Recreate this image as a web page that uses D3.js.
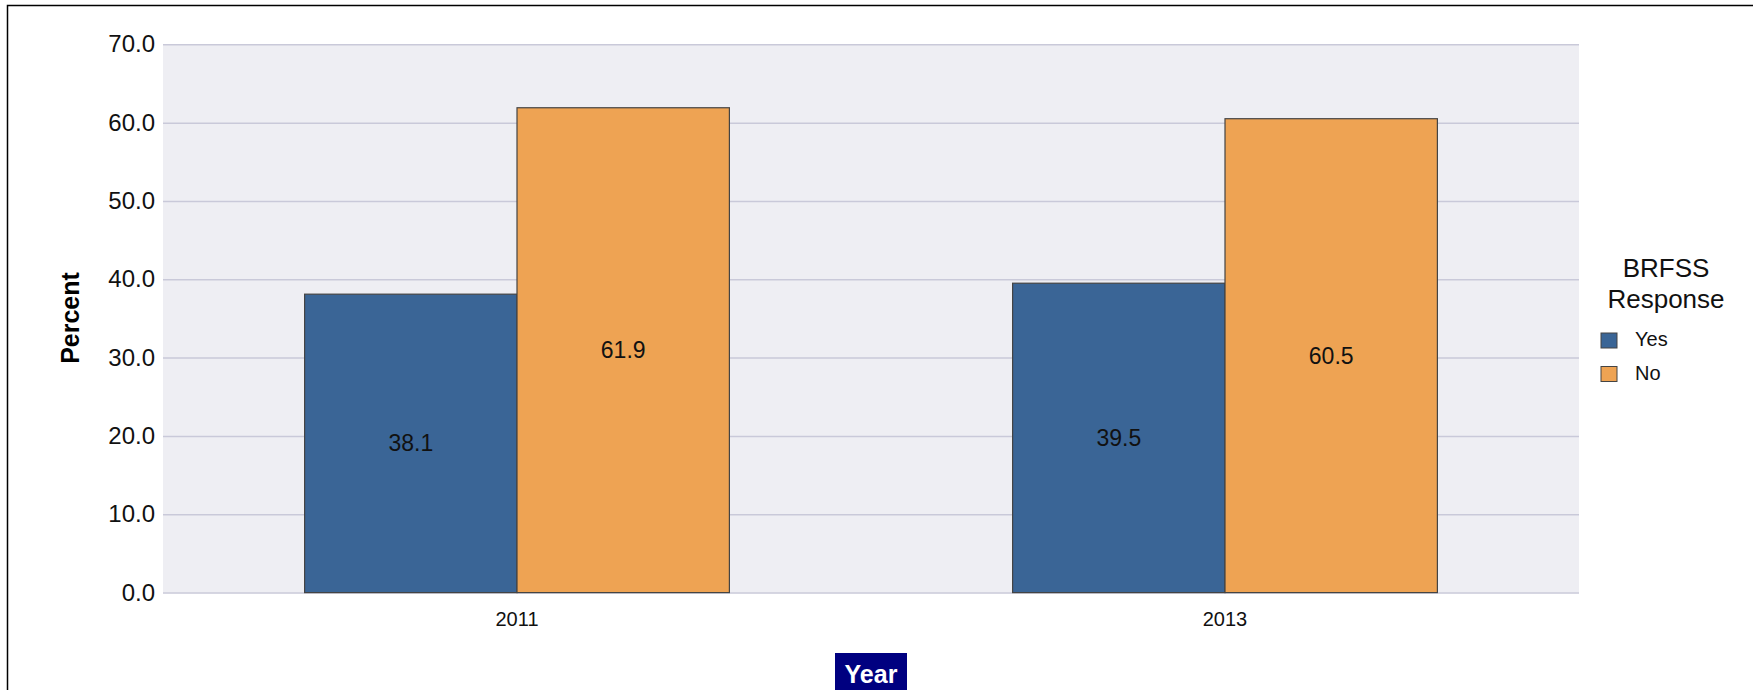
<!DOCTYPE html>
<html>
<head>
<meta charset="utf-8">
<script src="https://cdn.jsdelivr.net/npm/d3@7"></script>
<style>
  body { margin: 0; background: #fff; }
  svg text { font-family: "Liberation Sans", Arial, sans-serif; }
</style>
</head>
<body>
<div id="chart"></div>
<script>
// chart data
var years = ["2011", "2013"];
var responses = ["Yes", "No"];
var yesValues = [38.1, 39.5];
var noValues = [61.9, 60.5];
var yTicks = [0, 10, 20, 30, 40, 50, 60, 70];

var colors = { Yes: "#3a6596", No: "#eea353" };

var W = 1753, H = 690;
var plotLeft = 163, plotRight = 1579, plotTop = 44.3, plotBottom = 592.6;

var svg = d3.select("#chart").append("svg")
	.attr("width", W)
	.attr("height", H);

// outer frame
svg.append("rect")
	.attr("x", 7.5).attr("y", 5.5)
	.attr("width", W + 20).attr("height", H + 20)
	.attr("fill", "none")
	.attr("stroke", "#000")
	.attr("stroke-width", 1.5);

var x0 = d3.scaleBand()
	.domain(years)
	.range([plotLeft, plotRight])
	.paddingInner(0.4)
	.paddingOuter(0.2);

var x1 = d3.scaleBand()
	.domain(responses)
	.range([0, x0.bandwidth()]);

var y = d3.scaleLinear()
	.domain([0, 70])
	.range([plotBottom, plotTop]);

// plot background
svg.append("rect")
	.attr("x", plotLeft).attr("y", plotTop)
	.attr("width", plotRight - plotLeft).attr("height", plotBottom - plotTop)
	.attr("fill", "#eeeef3");

// grid lines
svg.append("g")
	.attr("transform", "translate(" + plotLeft + ",0)")
	.call(d3.axisLeft(y).tickValues(yTicks).tickSize(-(plotRight - plotLeft)).tickFormat(""))
	.call(function (g) { g.select(".domain").remove(); })
	.selectAll("line")
	.attr("stroke", "#c9c9d9")
	.attr("stroke-width", 1.5);

// y tick labels
svg.append("g")
	.attr("transform", "translate(" + plotLeft + ",0)")
	.call(d3.axisLeft(y).tickValues(yTicks).tickSize(0).tickPadding(8).tickFormat(d3.format(".1f")))
	.call(function (g) { g.select(".domain").remove(); })
	.selectAll("text")
	.attr("font-size", "24px")
	.attr("fill", "#111");

// bars
var rows = years.map(function (yr, i) {
	return { year: yr, values: [ { key: "Yes", v: yesValues[i] }, { key: "No", v: noValues[i] } ] };
});

var groups = svg.selectAll("g.year")
	.data(rows)
	.enter()
	.append("g")
	.attr("class", "year")
	.attr("transform", function (d) { return "translate(" + x0(d.year) + ",0)"; });

groups.selectAll("rect")
	.data(function (d) { return d.values; })
	.enter()
	.append("rect")
	.attr("x", function (d) { return x1(d.key); })
	.attr("y", function (d) { return y(d.v); })
	.attr("width", x1.bandwidth())
	.attr("height", function (d) { return y(0) - y(d.v); })
	.attr("fill", function (d) { return colors[d.key]; })
	.attr("stroke", "#444")
	.attr("stroke-width", 1.2);

groups.selectAll("text")
	.data(function (d) { return d.values; })
	.enter()
	.append("text")
	.attr("x", function (d) { return x1(d.key) + x1.bandwidth() / 2; })
	.attr("y", function (d) { return (y(d.v) + y(0)) / 2; })
	.attr("dy", "0.35em")
	.attr("text-anchor", "middle")
	.attr("font-size", "23px")
	.attr("fill", "#111")
	.text(function (d) { return d.v.toFixed(1); });

// x axis labels
svg.append("g")
	.attr("transform", "translate(0," + plotBottom + ")")
	.call(d3.axisBottom(x0).tickSize(0).tickPadding(19))
	.call(function (g) { g.select(".domain").remove(); })
	.selectAll("text")
	.attr("font-size", "20px")
	.attr("fill", "#111");

// y axis title
svg.append("text")
	.attr("transform", "translate(70,318) rotate(-90)")
	.attr("text-anchor", "middle")
	.attr("dy", "0.35em")
	.attr("font-size", "25px")
	.attr("font-weight", "bold")
	.attr("fill", "#000")
	.text("Percent");

// x axis title with box
svg.append("rect")
	.attr("x", 835).attr("y", 653)
	.attr("width", 72).attr("height", 45)
	.attr("fill", "#000080");
svg.append("text")
	.attr("x", 871).attr("y", 683)
	.attr("text-anchor", "middle")
	.attr("font-size", "25px")
	.attr("font-weight", "bold")
	.attr("fill", "#fff")
	.text("Year");

// legend
var legend = svg.append("g");
legend.append("text")
	.attr("x", 1666).attr("y", 277)
	.attr("text-anchor", "middle")
	.attr("font-size", "26px")
	.attr("fill", "#111")
	.text("BRFSS");
legend.append("text")
	.attr("x", 1666).attr("y", 308)
	.attr("text-anchor", "middle")
	.attr("font-size", "26px")
	.attr("fill", "#111")
	.text("Response");

var items = legend.selectAll("g.item")
	.data(responses)
	.enter()
	.append("g")
	.attr("class", "item")
	.attr("transform", function (d, i) { return "translate(1601," + (333 + i * 33.5) + ")"; });

items.append("rect")
	.attr("width", 16).attr("height", 15)
	.attr("fill", function (d) { return colors[d]; })
	.attr("stroke", "#444")
	.attr("stroke-width", 1);

items.append("text")
	.attr("x", 34).attr("y", 13)
	.attr("font-size", "20px")
	.attr("fill", "#111")
	.text(function (d) { return d; });
</script>
</body>
</html>
